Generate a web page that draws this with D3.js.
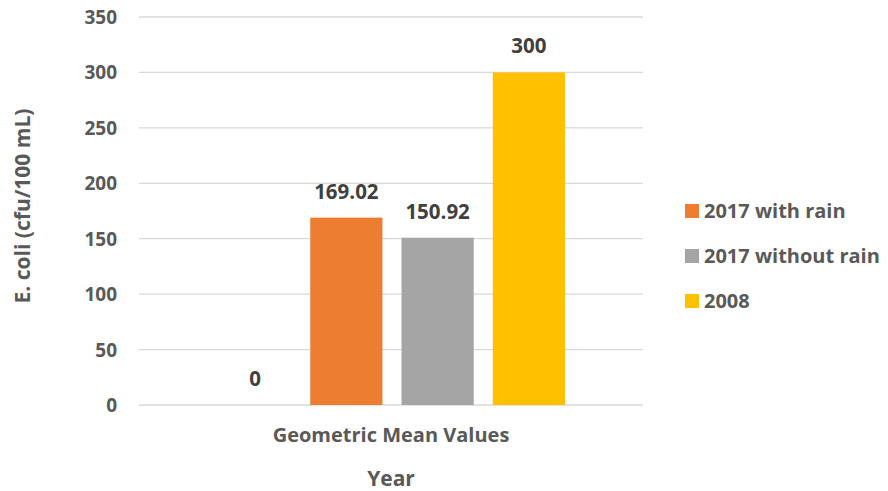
<!DOCTYPE html>
<html>
<head>
<meta charset="utf-8">
<script src="https://cdn.jsdelivr.net/npm/d3@7"></script>
<style>
  html, body { margin: 0; padding: 0; background: #fff; }
  svg { display: block; }
  text { font-family: "Open Sans", "Noto Sans", sans-serif; font-weight: bold; }
</style>
</head>
<body>
<svg id="chart" width="888" height="491"></svg>
<script>
const categories = ["Geometric Mean Values"];
const seriesNames = ["", "2017 with rain", "2017 without rain", "2008"];
const seriesValues = [0, 169.02, 150.92, 300];
const valueLabels = ["0", "169.02", "150.92", "300"];
const seriesColors = ["none", "#ED7D31", "#A5A5A5", "#FFC000"];
const yTicks = [0, 50, 100, 150, 200, 250, 300, 350];
const legendNames = ["2017 with rain", "2017 without rain", "2008"];
const legendColors = ["#ED7D31", "#A5A5A5", "#FFC000"];

const svg = d3.select("#chart");
const plot = { left: 139, right: 643, top: 17, bottom: 405 };

const y = d3.scaleLinear().domain([0, 350]).range([plot.bottom, plot.top]);
const x0 = d3.scaleBand().domain(categories).range([plot.left, plot.right]);
const x1 = d3.scaleBand().domain(d3.range(seriesValues.length))
  .range([80, x0.bandwidth() - 78]).paddingInner(19 / 91).paddingOuter(0);

// gridlines
svg.append("g").selectAll("line").data(yTicks).join("line")
  .attr("x1", plot.left).attr("x2", plot.right)
  .attr("y1", d => y(d)).attr("y2", d => y(d))
  .attr("stroke", "#D9D9D9").attr("stroke-width", 1.3);

// y axis labels
const yAxis = d3.axisLeft(y).tickValues(yTicks).tickSize(0).tickPadding(0);
const ya = svg.append("g").attr("transform", `translate(117,0)`).call(yAxis);
ya.select(".domain").remove();
ya.selectAll("text").attr("fill", "#595959").style("font-size", "19px")
  .style("font-family", "'Open Sans', sans-serif").style("font-weight", "bold").attr("dy", "0.34em");

// bars
const g = svg.append("g").attr("transform", `translate(${x0(categories[0])},0)`);
g.selectAll("rect").data(seriesValues).join("rect")
  .attr("x", (d, i) => x1(i)).attr("width", x1.bandwidth())
  .attr("y", d => y(d)).attr("height", d => y(0) - y(d))
  .attr("fill", (d, i) => seriesColors[i]);

// data labels
g.selectAll("text.lbl").data(seriesValues).join("text").attr("class", "lbl")
  .attr("x", (d, i) => x1(i) + x1.bandwidth() / 2)
  .attr("y", d => y(d) - 19)
  .attr("text-anchor", "middle").attr("fill", "#404040").style("font-size", "20.5px")
  .text((d, i) => valueLabels[i]);

// x axis category label
const xAxis = d3.axisBottom(x0).tickSize(0).tickPadding(0);
const xa = svg.append("g").attr("transform", `translate(0,428)`).call(xAxis);
xa.select(".domain").remove();
xa.selectAll("text").attr("fill", "#595959").style("font-size", "20px")
  .style("font-family", "'Open Sans', sans-serif").style("font-weight", "bold").attr("dy", "0.71em");

// axis titles
svg.append("text").attr("x", (plot.left + plot.right) / 2).attr("y", 486)
  .attr("text-anchor", "middle").attr("fill", "#595959").style("font-size", "21px").text("Year");
svg.append("text").attr("transform", "translate(30,206) rotate(-90)")
  .attr("text-anchor", "middle").attr("fill", "#595959").style("font-size", "21px")
  .text("E. coli (cfu/100 mL)");

// legend
const lg = svg.append("g").selectAll("g").data(legendNames).join("g")
  .attr("transform", (d, i) => `translate(685,${211 + i * 45})`);
lg.append("rect").attr("x", 0).attr("y", -7).attr("width", 14).attr("height", 14)
  .attr("fill", (d, i) => legendColors[i]);
lg.append("text").attr("x", 19).attr("y", 0).attr("dy", "0.36em")
  .attr("fill", "#595959").style("font-size", "20px").text(d => d);
</script>
</body>
</html>
